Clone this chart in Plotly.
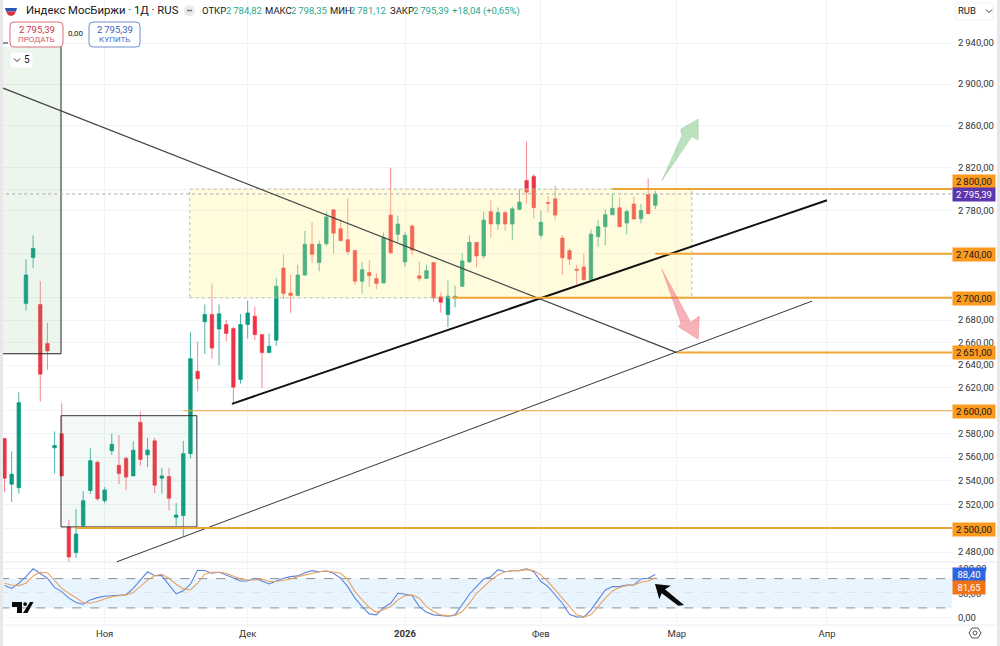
import plotly.graph_objects as go

W, H = 1000, 646
PLOT_RIGHT = 952
X_END = 132.48

# дневные свечи, слева направо
opens = [2576, 2537, 2534, 2695, 2736.6, 2694, 2659, 2568, 2580, 2501, 2479.6, 2502, 2531.6, 2555.7, 2523, 2565.5,
         2553, 2559, 2544, 2590, 2562, 2574, 2542, 2543.5, 2509, 2510.5, 2563, 2634.5, 2678.5, 2685, 2672, 2676,
         2672.5, 2627.4, 2676, 2683.5, 2667, 2651, 2662, 2727, 2704.3, 2702, 2720.6, 2748.7, 2732, 2749.3, 2780.6,
         2763, 2753, 2743, 2715, 2723, 2717.5, 2713.5, 2775.7, 2758, 2732.6, 2765.6, 2720, 2717.6, 2732, 2701,
         2685, 2699.7, 2710.4, 2732.6, 2750.5, 2738, 2778.8, 2767.4, 2778, 2767.4, 2781, 2808, 2812, 2757, 2787.4,
         2790.8, 2754.5, 2743, 2726, 2728, 2716.3, 2755.7, 2765, 2776, 2782.5, 2768.3, 2786, 2772.3, 2794.8, 2784.82]
highs = [2576, 2565, 2616, 2735, 2757, 2715, 2677.6, 2582, 2606.5, 2507, 2516, 2531, 2567.5, 2557, 2534.5, 2580,
         2579, 2560.5, 2573.5, 2599.4, 2576.5, 2576.5, 2551, 2551, 2521, 2574, 2669, 2660.5, 2694, 2713, 2694, 2680,
         2674, 2685.6, 2697.4, 2692, 2667, 2668, 2718, 2739.5, 2721, 2730, 2761, 2769, 2752, 2778.8, 2781.5,
         2772, 2791, 2743, 2732.5, 2734, 2722.5, 2759.6, 2820, 2775, 2760, 2767, 2732.6, 2730, 2732.6, 2705,
         2715.7, 2711, 2740.3, 2757, 2750.5, 2778.8, 2789.5, 2782.8, 2780, 2783.4, 2799.7, 2844.5, 2814, 2780, 2793.5,
         2803, 2757, 2745, 2730, 2740, 2762.5, 2771, 2781, 2795.7, 2792, 2781, 2793, 2786, 2810, 2798.35]
lows = [2530, 2522, 2529, 2688.5, 2727, 2608, 2636, 2546, 2544, 2472, 2475, 2501, 2528.6, 2523, 2521, 2562,
        2537, 2532, 2544, 2552.6, 2551.5, 2529.5, 2529, 2515, 2502, 2493, 2559, 2617, 2650, 2646, 2640, 2661,
        2606, 2623.6, 2663.5, 2662, 2620, 2651, 2657, 2699, 2686.5, 2702, 2720, 2732, 2724, 2747, 2740,
        2752, 2739, 2712, 2704, 2710, 2708, 2713, 2739.5, 2751, 2728, 2739, 2715, 2717, 2696, 2686.6,
        2673.7, 2691.4, 2710, 2732, 2728, 2735.7, 2755, 2762, 2761, 2752.6, 2780, 2786.5, 2772.6, 2754, 2778,
        2771.7, 2721, 2729.7, 2712, 2715.7, 2715.7, 2746.5, 2748, 2776, 2765, 2758, 2772, 2768, 2777, 2781.12]
closes = [2542, 2545.5, 2607, 2720.6, 2745, 2632, 2652.5, 2570, 2544, 2476, 2495, 2523, 2557, 2524.6, 2532, 2571,
          2546, 2543, 2566, 2558, 2566, 2536, 2544, 2525, 2511, 2563, 2645.6, 2628, 2685, 2655, 2685.6, 2668,
          2620.6, 2676, 2686.4, 2667, 2651, 2656.6, 2710.5, 2704, 2702, 2720.6, 2748.7, 2739.5, 2748.7, 2774, 2759,
          2752, 2742, 2715, 2725.5, 2720, 2713, 2755, 2741, 2767.4, 2757, 2743.4, 2717.6, 2724.6, 2700, 2696,
          2701.5, 2701.5, 2733.5, 2750.5, 2738, 2771, 2767.4, 2778, 2767.4, 2781.5, 2787.7, 2797, 2782.5, 2769, 2786.5,
          2775.7, 2736.3, 2735, 2725, 2716.3, 2758, 2765, 2776, 2782, 2765, 2779, 2772, 2780, 2777, 2795.39]

# стохастик RSI
stoch_k = [65.7, 60, 70.5, 84, 100, 91, 80.7, 62, 53.4, 40, 31, 27.5, 36.4, 41, 44, 45, 46.6, 47, 60, 76, 94, 86, 86,
           67, 49, 55, 68.4, 97, 96.4, 91, 93, 87.5, 80.7, 75, 75, 80.7, 75, 69, 75, 80.7, 84, 85.5, 92, 96.4, 94,
           95.7, 91, 80.7, 63.6, 40, 22.7, 7.7, 5.7, 20.7, 29.6, 50, 48, 45, 22.7, 11, 5.7, 3.7, 3, 5.7, 26, 48,
           63.6, 79.3, 84, 98.4, 94, 96.4, 96.4, 100, 94, 74, 63.6, 46.6, 29.6, 7, 1.6, 1, 16, 36.4, 56.8, 63.6,
           63.6, 67, 67, 79.3, 80.7, 88.4]
stoch_d = [70.5, 67, 65.7, 70.5, 85.5, 93, 92, 77, 60, 50, 40, 31, 29.6, 33, 38.4, 43, 45, 46.6, 51.4, 63.6, 77, 86,
           89, 80.7, 68.4, 59, 56.8, 70.5, 89, 93, 93, 91, 85.5, 79.3, 77, 77, 78.6, 74, 74, 76, 79.3, 84, 87.5, 92,
           94, 95.7, 94, 91, 78.6, 53.4, 36.4, 20.7, 11, 16, 22.7, 36.4, 45, 46.6, 40, 22.7, 12.5, 5.7, 3.7, 4.3,
           12.5, 29.6, 50, 63.6, 77, 87.5, 94, 96.4, 96.4, 98.4, 96.4, 87.5, 74, 56.8, 40, 22.7, 5.7, 1.6, 5.7,
           22.7, 40, 54.8, 62, 65.7, 67, 72.5, 75, 81.65]

bar_idx = list(range(len(closes)))

# подписи осей
price_ticks = [2940, 2900, 2860, 2820, 2780, 2680, 2660, 2640, 2620, 2580, 2560, 2540, 2520, 2480]
price_grid = [2800, 2740, 2700, 2600, 2500]
month_idx = [14, 34, 56, 75, 94, 115]
month_labels = ["Ноя", "Дек", "<b>2026</b>", "Фев", "Мар", "Апр"]
stoch_ticks = [100, 50, 0]
stoch_labels = ["100,00", "50,00", "0,00"]


def fmt_price(v):
    s = f"{v:.2f}".replace(".", ",")
    return s[0] + "\u2009" + s[1:]


def fx(x):
    return x / W


def fy(y):
    return 1 - y / H


def poly(points, fill, line="rgba(0,0,0,0)", width=0):
    path = "M" + " L".join(f"{fx(x):.5f},{fy(y):.5f}" for x, y in points) + " Z"
    return dict(type="path", xref="paper", yref="paper", path=path, fillcolor=fill,
                line=dict(color=line, width=width), layer="above")


def chevron(x, y):
    path = f"M{fx(x - 3)},{fy(y - 1.5)} L{fx(x)},{fy(y + 1.5)} L{fx(x + 3)},{fy(y - 1.5)}"
    return dict(type="path", xref="paper", yref="paper", path=path, line=dict(color="#333", width=1), layer="above")


def round_box(x0, y0, x1, y1, r, line, fill="white"):
    a, b, c, d = fx(x0), fy(y0), fx(x1), fy(y1)
    rx, ry = r / W, r / H
    path = (f"M{a + rx},{b} L{c - rx},{b} Q{c},{b} {c},{b - ry} L{c},{d + ry} Q{c},{d} {c - rx},{d} "
            f"L{a + rx},{d} Q{a},{d} {a},{d + ry} L{a},{b - ry} Q{a},{b} {a + rx},{b} Z")
    return dict(type="path", xref="paper", yref="paper", path=path, fillcolor=fill,
                line=dict(color=line, width=1), layer="above")


def hline(price, i0, width, color="#eda535"):
    return dict(type="line", xref="x", yref="y", x0=i0, x1=X_END, y0=price, y1=price,
                line=dict(color=color, width=width), layer="above")


def text(x, y, s, size=9.5, color="#131722", anchor="left", **kw):
    # у аннотации есть внутренний отступ около 2px
    x = x - 2 if anchor == "left" else x
    return dict(x=fx(x), y=fy(y), xref="paper", yref="paper", text=s, showarrow=False, xanchor=anchor,
                yanchor="middle", align="center", font=dict(size=size, color=color, family="Roboto"), **kw)


def tag(y, s, bg, color="#131722", x=952, w=42, h=13):
    return dict(x=fx(x), y=fy(y), xref="paper", yref="paper", text=s, showarrow=False, xanchor="left",
                yanchor="middle", width=w, height=h, bgcolor=bg, borderpad=0, align="center",
                font=dict(size=9.5, color=color, family="Roboto"))


fig = go.Figure()

fig.add_trace(go.Candlestick(
    x=bar_idx, open=opens, high=highs, low=lows, close=closes,
    increasing=dict(line=dict(color="rgba(8,153,129,0.72)", width=1), fillcolor="#0c9a80"),
    decreasing=dict(line=dict(color="rgba(242,54,69,0.6)", width=1), fillcolor="#ee3346"),
    whiskerwidth=0, showlegend=False, xaxis="x", yaxis="y",
))
fig.add_trace(go.Scatter(x=bar_idx, y=stoch_k, mode="lines", line=dict(color="#5f85d8", width=1.1),
                         showlegend=False, xaxis="x", yaxis="y2"))
fig.add_trace(go.Scatter(x=bar_idx, y=stoch_d, mode="lines", line=dict(color="#e8a263", width=1.1),
                         showlegend=False, xaxis="x", yaxis="y2"))

shapes = [
    # зелёные зоны и жёлтый диапазон лежат поверх свечей
    dict(type="rect", xref="x", yref="y", x0=-0.6, x1=7.9, y0=2650, y1=2936, fillcolor="rgba(120,190,130,0.14)",
         line=dict(width=0), layer="above"),
    dict(type="line", xref="x", yref="y", x0=7.9, x1=7.9, y0=2650, y1=2936, line=dict(color="#222", width=1),
         layer="above"),
    dict(type="line", xref="x", yref="y", x0=-0.2, x1=7.9, y0=2650, y1=2650, line=dict(color="#222", width=1),
         layer="above"),
    dict(type="rect", xref="x", yref="y", x0=7.9, x1=26.9, y0=2501, y1=2595.7, fillcolor="rgba(120,190,150,0.09)",
         line=dict(color="#333", width=1), layer="above"),
    dict(type="rect", xref="x", yref="y", x0=25.9, x1=96.1, y0=2700, y1=2800, fillcolor="rgba(255,245,130,0.27)",
         line=dict(color="#bdbdb2", width=1, dash="dot"), layer="above"),
    # линия текущей цены
    dict(type="line", xref="x", yref="y", x0=-0.6, x1=X_END, y0=2795.39, y1=2795.39,
         line=dict(color="#a8a8b2", width=1, dash="dot"), layer="above"),
    # трендовые линии
    dict(type="line", xref="x", yref="y", x0=-0.2, x1=94, y0=2896, y1=2651, line=dict(color="#444", width=1.2),
         layer="above"),
    dict(type="line", xref="x", yref="y", x0=31.8, x1=115, y0=2606, y1=2789.5, line=dict(color="#111", width=2),
         layer="above"),
    dict(type="line", xref="x", yref="y", x0=15.7, x1=112.9, y0=2472, y1=2697, line=dict(color="#333", width=1),
         layer="above"),
    # уровни
    hline(2800, 85, 2),
    hline(2740, 91, 2),
    hline(2700, 62.6, 2),
    hline(2651, 94, 2),
    hline(2600, 25, 1),
    hline(2500, 10, 2),
    # полоса стохастика
    dict(type="rect", xref="x", yref="y2", x0=-0.6, x1=X_END, y0=20, y1=80, fillcolor="rgba(33,150,243,0.10)",
         line=dict(width=0), layer="below"),
    dict(type="line", xref="x", yref="y2", x0=-0.6, x1=X_END, y0=80, y1=80,
         line=dict(color="#8a8e99", width=1, dash="dash"), layer="below"),
    dict(type="line", xref="x", yref="y2", x0=-0.6, x1=X_END, y0=50, y1=50,
         line=dict(color="#b5b8c0", width=1, dash="dash"), layer="below"),
    dict(type="line", xref="x", yref="y2", x0=-0.6, x1=X_END, y0=20, y1=20,
         line=dict(color="#8a8e99", width=1, dash="dash"), layer="below"),
    # разделитель панелей
    dict(type="line", xref="paper", yref="paper", x0=0, x1=1, y0=fy(562), y1=fy(562),
         line=dict(color="#e6e8ee", width=1), layer="below"),
    dict(type="line", xref="paper", yref="paper", x0=0, x1=1, y0=fy(625), y1=fy(625),
         line=dict(color="#eceef2", width=1), layer="below"),
    # края скриншота
    dict(type="rect", xref="paper", yref="paper", x0=0, x1=fx(3), y0=0, y1=1, fillcolor="#e8e8ea",
         line=dict(width=0), layer="above"),
    dict(type="rect", xref="paper", yref="paper", x0=fx(997), x1=1, y0=0, y1=1, fillcolor="#e8e8ea",
         line=dict(width=0), layer="above"),
    # чёрточка над зелёной зоной
    dict(type="line", xref="paper", yref="paper", x0=fx(3), x1=fx(8), y0=fy(43), y1=fy(43),
         line=dict(color="#333", width=1), layer="above"),
    # стрелки прогноза
    poly([(661.7, 181), (681.7, 136), (680.7, 129.3), (698.3, 119), (698.3, 140), (691.7, 136.7)],
         "rgba(120,195,125,0.5)", "rgba(110,185,115,0.55)", 0.5),
    poly([(661.7, 269), (690.7, 322.3), (699.3, 316), (698.3, 339.3), (678.3, 326.7), (681, 323.3)],
         "rgba(240,100,115,0.5)", "rgba(235,90,105,0.55)", 0.5),
    poly([(655, 584), (671, 585.7), (665, 589.3), (684, 605), (678.3, 605.7), (661.7, 593.3), (659.3, 599.3)], "#0a0a0a"),
    # логотип
    poly([(12, 602), (22, 602), (22, 613), (17, 613), (17, 607), (12, 607)], "#0a0a0a"),
    poly([(30, 602), (33.5, 602), (27.5, 613), (23, 613)], "#0a0a0a"),
    dict(type="circle", xref="paper", yref="paper", x0=fx(23.2), x1=fx(27), y0=fy(606), y1=fy(602.2),
         fillcolor="#0a0a0a", line=dict(width=0), layer="above"),
    # флаг
    poly([(5, 8), (17, 8), (16, 11.5), (6, 11.5)], "#2a57b5"),
    poly([(6, 11.5), (16, 11.5), (14, 15), (11, 16), (8, 15)], "#d8333f"),
    # серая кнопка-кружок у заголовка
    dict(type="circle", xref="paper", yref="paper", x0=fx(184), x1=fx(195), y0=fy(16), y1=fy(5),
         fillcolor="#e9eaee", line=dict(width=0), layer="above"),
    dict(type="line", xref="paper", yref="paper", x0=fx(187), x1=fx(192), y0=fy(10.5), y1=fy(10.5),
         line=dict(color="#777", width=1.5), layer="above"),
    # кнопки заявок
    round_box(10, 22, 63, 47, 4, "#d8707c"),
    round_box(89, 22, 140, 47, 4, "#6f8fd0"),
    round_box(10, 52, 33, 68, 2, "#eef0f2"),
    chevron(17, 60),
    round_box(955, 3, 993, 20, 2, "#eef0f2"),
    chevron(989, 11),
    # значок настроек
    poly([(969, 633), (972, 628), (978, 628), (981, 633), (978, 638), (972, 638)], "white", "#555", 1),
    dict(type="circle", xref="paper", yref="paper", x0=fx(973), x1=fx(977), y0=fy(635), y1=fy(631),
         fillcolor="white", line=dict(color="#555", width=1), layer="above"),
]

green = "#2aa88f"
annotations = [
    text(26, 11, "Индекс МосБиржи · 1Д · RUS", size=11.3),
    text(202, 11, "ОТКР", size=9.5),
    text(226, 11, fmt_price(2784.82), color=green),
    text(265, 11, "МАКС", size=9.5),
    text(291, 11, fmt_price(2798.35), color=green),
    text(330, 11, "МИН", size=9.5),
    text(350, 11, fmt_price(2781.12), color=green),
    text(390, 11, "ЗАКР", size=9.5),
    text(413, 11, fmt_price(2795.39), color=green),
    text(452, 11, "+18,04 (+0,65%)", color=green),
    text(36.5, 29.5, fmt_price(2795.39), size=9.5, color="#d0344a", anchor="center"),
    text(36.5, 39.5, "ПРОДАТЬ", size=8, color="#d0546a", anchor="center"),
    text(76, 34, "0,00", size=8, anchor="center"),
    text(114.5, 29.5, fmt_price(2795.39), size=9.5, color="#3a5fb5", anchor="center"),
    text(114.5, 39.5, "КУПИТЬ", size=8, color="#4a70c5", anchor="center"),
    text(27, 60, "5", size=10, anchor="center"),
    text(958, 11, "RUB", size=9.5),
    tag(181, fmt_price(2800), "#fb9a1c"),
    tag(194, fmt_price(2795.39), "#5e35b1", "white"),
    tag(254, fmt_price(2740), "#fb9a1c"),
    tag(298, fmt_price(2700), "#fb9a1c"),
    tag(352, fmt_price(2651), "#fb9a1c"),
    tag(411, fmt_price(2600), "#fb9a1c"),
    tag(529, fmt_price(2500), "#fb9a1c"),
    tag(574, "88,40", "#2f66e0", "white", w=32, h=13),
    tag(587, "81,65", "#f0731a", "white", w=32, h=13),
]

fig.update_layout(
    width=W, height=H, margin=dict(l=0, r=0, t=0, b=0),
    paper_bgcolor="white", plot_bgcolor="white", showlegend=False,
    font=dict(family="Roboto", size=9.5, color="#131722"),
    xaxis=dict(domain=[0, PLOT_RIGHT / W], range=[-0.63, X_END], anchor="y2", rangeslider=dict(visible=False),
               tickmode="array", tickvals=month_idx, ticktext=month_labels, showgrid=True, gridcolor="#f1f3f6",
               gridwidth=1, zeroline=False, showline=False, ticks="", ticklabelstandoff=1,
               tickfont=dict(size=9.5, color="#333")),
    yaxis=dict(domain=[fy(562), 1], type="log", range=[3.39302, 3.47459], side="right", anchor="x",
               tickmode="array", tickvals=price_ticks + price_grid,
               ticktext=[fmt_price(v) for v in price_ticks] + [""] * len(price_grid),
               showgrid=True, gridcolor="#f1f3f6", gridwidth=1, zeroline=False, showline=False, ticks="",
               ticklabelstandoff=5, tickfont=dict(size=9.5, color="#333")),
    yaxis2=dict(domain=[fy(625), fy(562)], range=[-15, 114], side="right", anchor="x",
                tickmode="array", tickvals=stoch_ticks, ticktext=stoch_labels, showgrid=True, gridcolor="#f1f3f6",
                zeroline=False, showline=False, ticks="", ticklabelstandoff=5, tickfont=dict(size=9.5, color="#333")),
    shapes=shapes, annotations=annotations, hovermode=False,
)

fig.write_html("out.html", config=dict(displayModeBar=False),
               post_script="document.body.style.margin='0';")
